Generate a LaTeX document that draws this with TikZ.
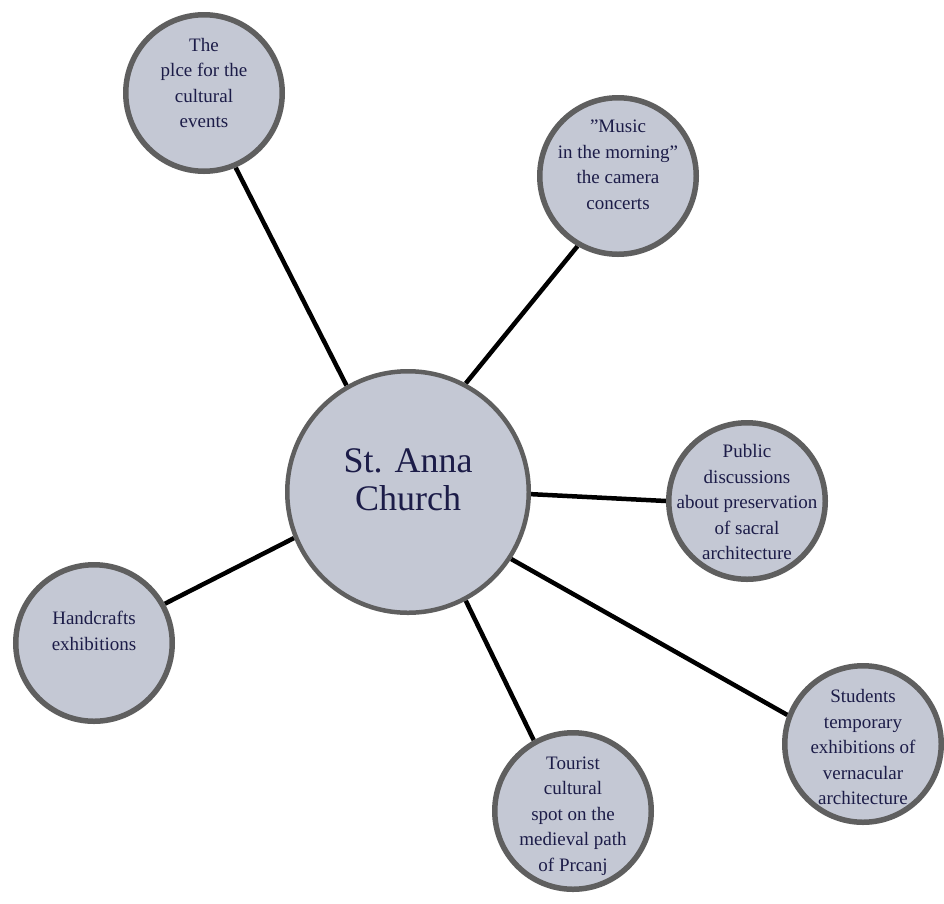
\documentclass[tikz,border=0pt]{standalone}
\usepackage{fontspec}
\setmainfont{Liberation Serif}
\usetikzlibrary{backgrounds}
\definecolor{bubfill}{RGB}{196,200,212}
\definecolor{bubdraw}{RGB}{95,95,95}
\definecolor{bubtext}{RGB}{28,28,72}
\tikzset{
  bub/.style={circle, draw=bubdraw, fill=bubfill, line width=5.5pt, minimum size=156.5pt, inner sep=0pt},
  hub/.style={circle, draw=bubdraw, fill=bubfill, line width=4.5pt, minimum size=241.5pt, inner sep=0pt},
  txt/.style={align=center, inner sep=0pt, text=bubtext, font=\fontsize{19pt}{25.5pt}\selectfont},
  hubtxt/.style={align=center, inner sep=0pt, text=bubtext, font=\fontsize{36pt}{38pt}\selectfont},
  link/.style={line width=4.5pt, black}
}
\begin{document}
\begin{tikzpicture}[x=1pt,y=-1pt]
\useasboundingbox (0,0) rectangle (944,903);
\node[hub] (c) at (408,492) {};
\node[hubtxt] (ct) at (408,480) {St. Anna\\Church};

\node[bub] (tl) at (204,93) {};
\node[txt] (tlt) at (204,83) {The\\plce for the\\cultural\\events};

\node[bub] (mu) at (618,176) {};
\node[txt] (mut) at (618,165) {”Music\\in the morning”\\the camera\\concerts};

\node[bub] (pu) at (747,501) {};
\node[txt] (put) at (747,502) {Public\\discussions\\about preservation\\of sacral\\architecture};

\node[bub] (ha) at (94,643) {};
\node[txt] (hat) at (94,631) {Handcrafts\\exhibitions};

\node[bub] (to) at (573,811) {};
\node[txt] (tot) at (573,816) {Tourist\\cultural\\spot on the\\medieval path\\of Prcanj};

\node[bub] (st) at (863,744) {};
\node[txt] (stt) at (863,747) {Students\\temporary\\exhibitions of\\vernacular\\architecture};

\begin{scope}[on background layer]
\draw[link] (c.120.5) -- (tl.-67.5);
\draw[link] (c.62.2) -- (mu.240.3);
\draw[link] (c.-1.5) -- (pu.180.5);
\draw[link] (c.202.9) -- (ha.29);
\draw[link] (c.-62.8) -- (to.119.3);
\draw[link] (c.-33.3) -- (st.159);
\end{scope}
\end{tikzpicture}
\end{document}
